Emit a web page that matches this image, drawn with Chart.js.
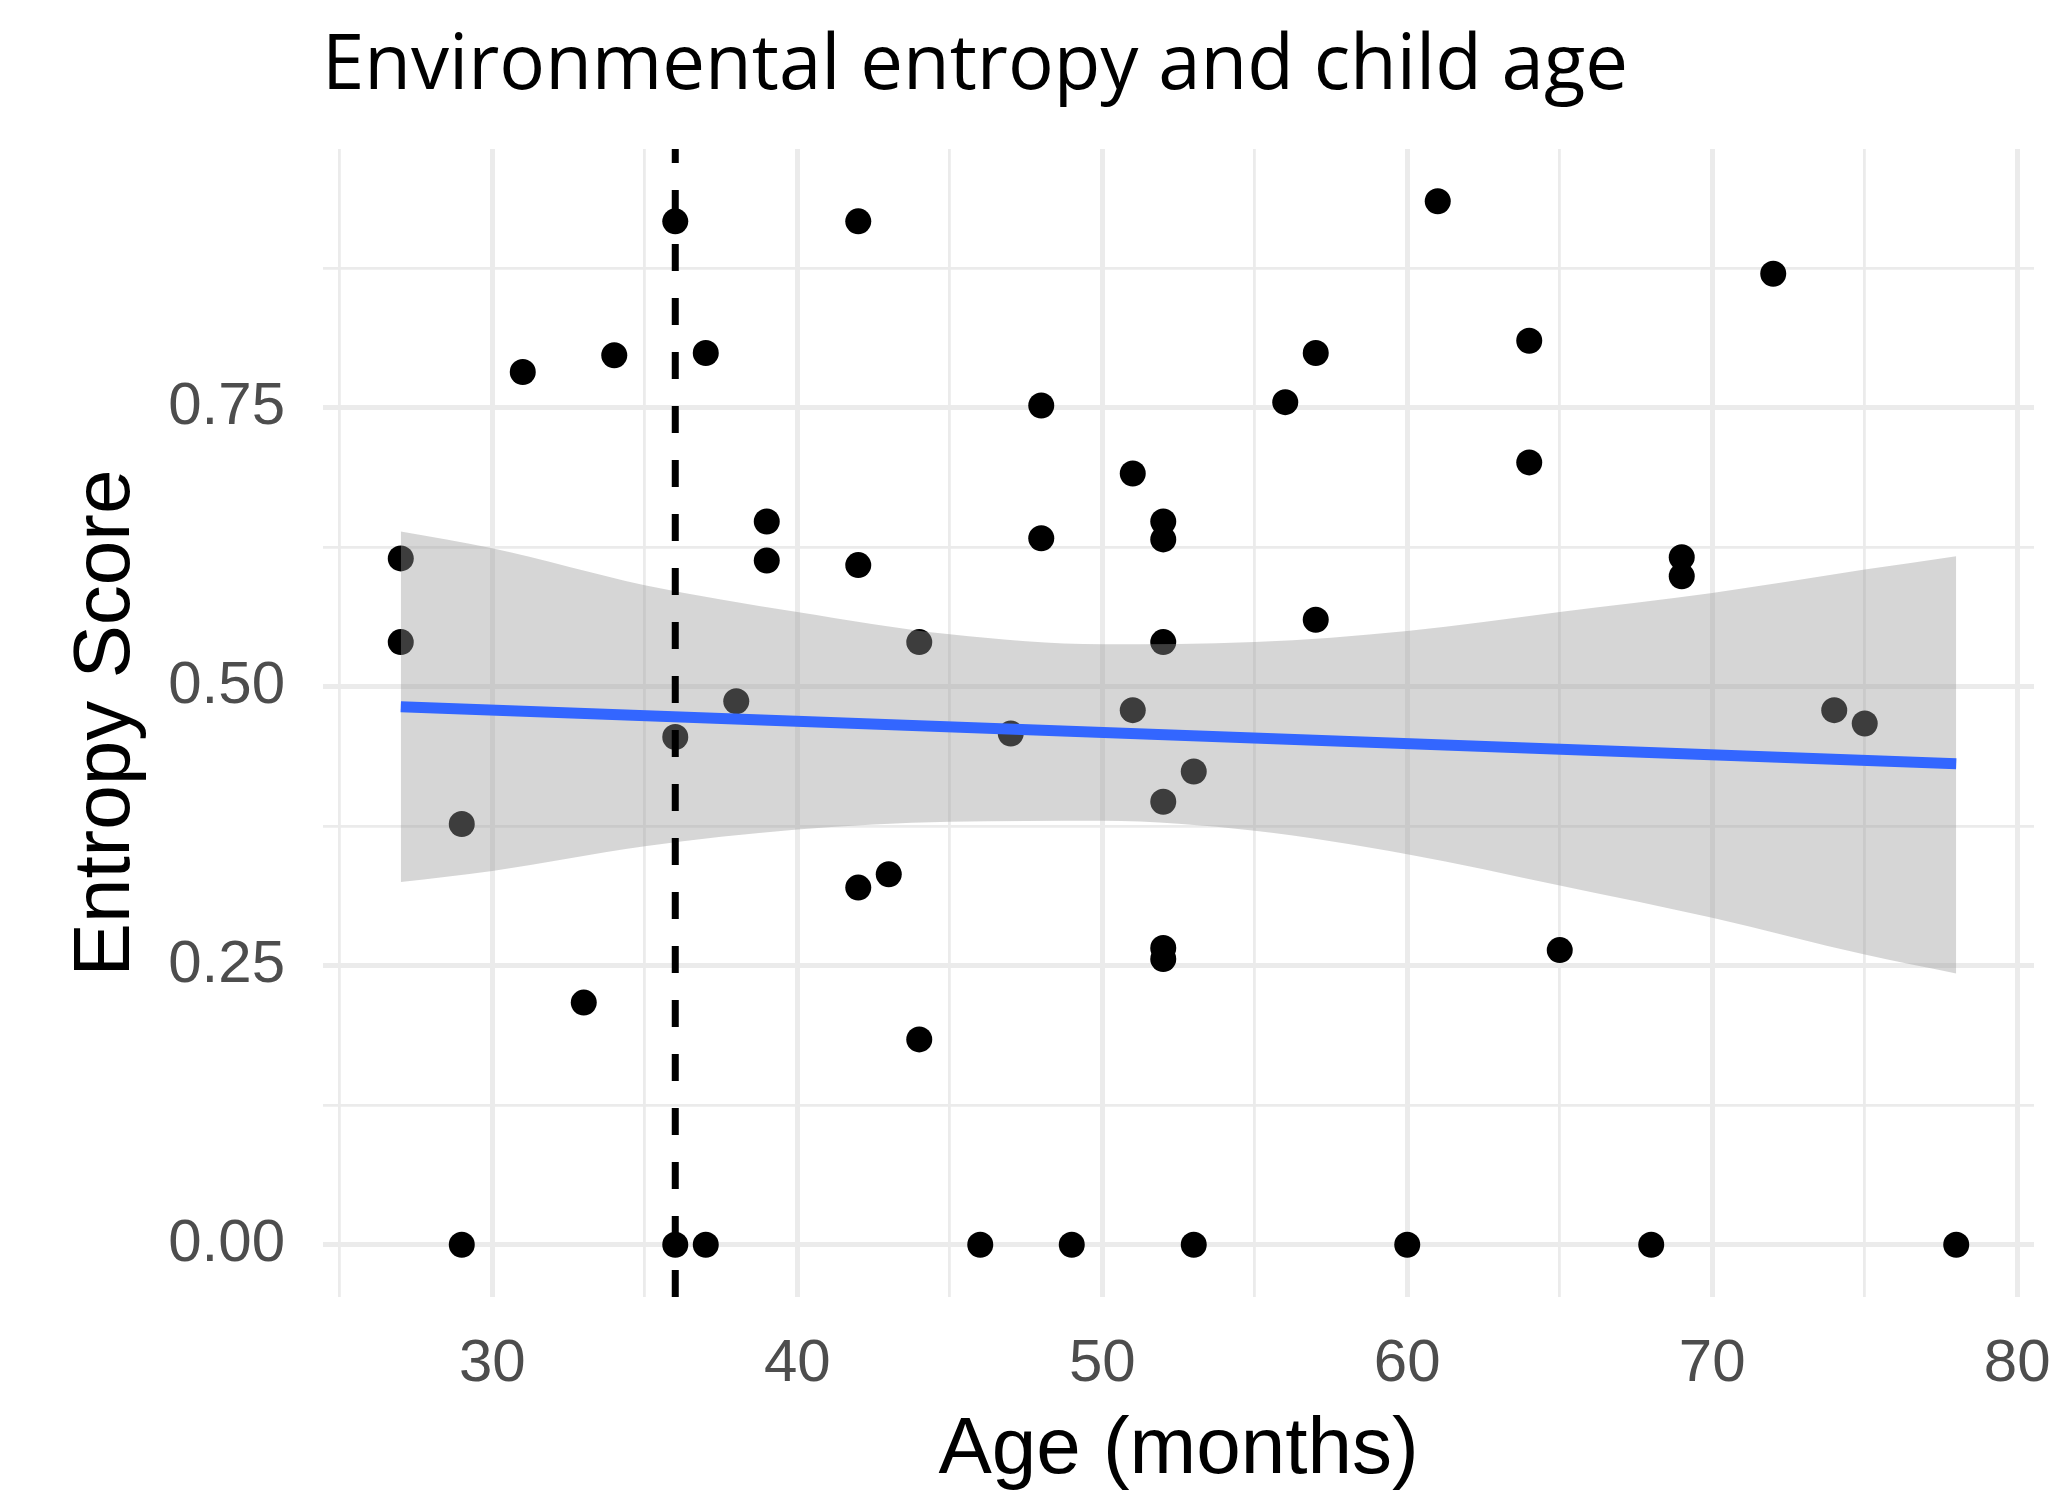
<!DOCTYPE html>
<html>
<head>
<meta charset="utf-8">
<title>Environmental entropy and child age</title>
<script src="https://cdn.jsdelivr.net/npm/chart.js@4.4.1/dist/chart.umd.min.js"></script>
<style>
  html, body { margin: 0; padding: 0; background: #fff; }
  canvas { display: block; }
</style>
</head>
<body>
<canvas id="chart" width="2051" height="1494"></canvas>
<script>
// one entry per child: age in months, entropy score
const ages = [36, 42, 61, 72, 31, 34, 37, 57, 64, 48, 56, 51, 64, 39, 39, 27, 42, 48, 52, 52,
  69, 69, 57, 27, 44, 52, 38, 51, 74, 75, 36, 47, 53, 52, 29, 43, 42, 52, 52, 65, 33, 44,
  29, 36, 37, 46, 49, 53, 60, 68, 78];
const entropy = [0.917, 0.917, 0.935, 0.870, 0.782, 0.797, 0.799, 0.799, 0.810, 0.752, 0.755, 0.691, 0.701, 0.648, 0.613, 0.615, 0.609, 0.633, 0.648, 0.632,
  0.616, 0.599, 0.560, 0.540, 0.540, 0.540, 0.487, 0.479, 0.479, 0.467, 0.455, 0.458, 0.424, 0.397, 0.377, 0.332, 0.320, 0.266, 0.256, 0.264, 0.217, 0.184,
  0, 0, 0, 0, 0, 0, 0, 0, 0];

// linear fit and its confidence band
const fitAges = [27, 78];
const fitScores = [0.482, 0.431];
const bandAges = [27, 30, 35, 40, 45, 50, 55, 60, 65, 70, 75, 78];
const bandUpper = [0.639, 0.624, 0.591, 0.567, 0.547, 0.538, 0.540, 0.550, 0.567, 0.584, 0.605, 0.617];
const bandLower = [0.325, 0.335, 0.357, 0.372, 0.379, 0.380, 0.371, 0.350, 0.322, 0.293, 0.260, 0.243];

const cutoffAge = 36;

const xRange = [24.45, 80.55];
const yRange = [-0.0468, 0.9818];
const xTicks = [30, 40, 50, 60, 70, 80];
const xMinor = [25, 35, 45, 55, 65, 75];
const yTicks = [0, 0.25, 0.5, 0.75];
const yMinor = [0.125, 0.375, 0.625, 0.875];

const titleText = 'Environmental entropy and child age';

const toPoints = (xs, ys) => xs.map((x, i) => ({ x: x, y: ys[i] }));
const allTicks = (major, minor) => major.concat(minor).sort((a, b) => a - b).map(v => ({ value: v }));

Chart.defaults.font.family = '"Liberation Sans", Arial, sans-serif';

// ggplot-style title, left aligned with the panel
const titlePlugin = {
  id: 'ggTitle',
  afterDraw(chart) {
    const { ctx, chartArea } = chart;
    ctx.save();
    ctx.font = '77px "Open Sans"';
    ctx.fillStyle = '#000';
    ctx.textBaseline = 'alphabetic';
    ctx.fillText(titleText, chartArea.left - 1, chartArea.top - 60, 1306);
    ctx.restore();
  }
};

// dashed vertical reference line
const cutoffPlugin = {
  id: 'cutoff',
  afterDatasetsDraw(chart) {
    const { ctx, chartArea, scales } = chart;
    const x = scales.x.getPixelForValue(cutoffAge);
    ctx.save();
    ctx.strokeStyle = '#000';
    ctx.lineWidth = 7;
    ctx.setLineDash([27, 27]);
    ctx.beginPath();
    ctx.moveTo(x, chartArea.bottom);
    ctx.lineTo(x, chartArea.top);
    ctx.stroke();
    ctx.restore();
  }
};

new Chart(document.getElementById('chart'), {
  type: 'scatter',
  data: {
    datasets: [
      {
        label: 'fit',
        data: toPoints(fitAges, fitScores),
        showLine: true,
        borderColor: '#3366ff',
        borderWidth: 11,
        pointRadius: 0,
        order: 0
      },
      {
        label: 'upper',
        data: toPoints(bandAges, bandUpper),
        showLine: true,
        borderColor: 'transparent',
        borderWidth: 1,
        pointRadius: 0,
        cubicInterpolationMode: 'monotone',
        fill: '+1',
        backgroundColor: 'rgba(153,153,153,0.4)',
        order: 1
      },
      {
        label: 'lower',
        data: toPoints(bandAges, bandLower),
        showLine: true,
        borderColor: 'transparent',
        borderWidth: 1,
        pointRadius: 0,
        cubicInterpolationMode: 'monotone',
        order: 1
      },
      {
        label: 'children',
        data: toPoints(ages, entropy),
        pointRadius: 13,
        pointHoverRadius: 13,
        backgroundColor: '#000',
        borderWidth: 0,
        order: 2
      }
    ]
  },
  options: {
    responsive: false,
    animation: false,
    events: [],
    layout: { padding: { top: 149, right: 17, left: 0, bottom: 0 } },
    plugins: {
      legend: { display: false },
      tooltip: { enabled: false }
    },
    scales: {
      x: {
        type: 'linear',
        min: xRange[0],
        max: xRange[1],
        afterBuildTicks: axis => { axis.ticks = allTicks(xTicks, xMinor); },
        afterFit: axis => {
          axis.height = 197;
          axis.paddingLeft = 0;
          axis.paddingRight = 0;
        },
        grid: {
          color: '#ebebeb',
          lineWidth: ctx => xTicks.includes(ctx.tick.value) ? 5 : 2.8,
          drawTicks: false
        },
        border: { display: false },
        ticks: {
          autoSkip: false,
          maxRotation: 0,
          padding: 31,
          color: '#4d4d4d',
          font: { size: 60 },
          callback: v => xTicks.includes(v) ? String(v) : ''
        },
        title: {
          display: true,
          text: 'Age (months)',
          color: '#000',
          font: { size: 80 },
          padding: { top: 0, bottom: -5 }
        }
      },
      y: {
        type: 'linear',
        min: yRange[0],
        max: yRange[1],
        afterBuildTicks: axis => { axis.ticks = allTicks(yTicks, yMinor); },
        afterFit: axis => {
          axis.width = 323;
          axis.paddingTop = 0;
          axis.paddingBottom = 0;
        },
        grid: {
          color: '#ebebeb',
          lineWidth: ctx => yTicks.includes(ctx.tick.value) ? 5 : 2.8,
          drawTicks: false
        },
        border: { display: false },
        ticks: {
          autoSkip: false,
          padding: 38,
          color: '#4d4d4d',
          font: { size: 60 },
          callback: v => yTicks.includes(v) ? v.toFixed(2) : ''
        },
        title: {
          display: true,
          text: 'Entropy Score',
          color: '#000',
          font: { size: 80 },
          padding: { top: 59, bottom: 0 }
        }
      }
    }
  },
  plugins: [titlePlugin, cutoffPlugin]
});
</script>
</body>
</html>
